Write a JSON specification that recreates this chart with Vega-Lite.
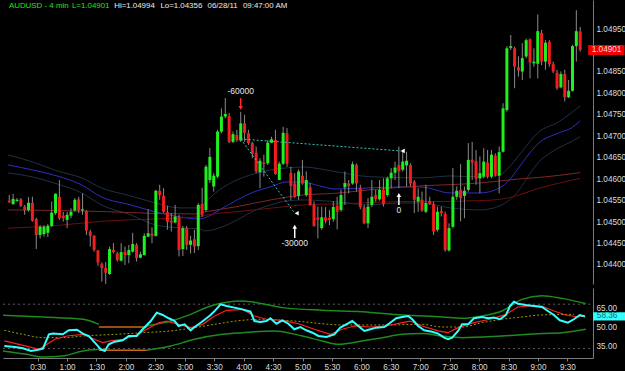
{
"$schema": "https://vega.github.io/schema/vega-lite/v6.json",
"background": "#000000",
"padding": 0,
"spacing": 3,
"config": {"view": {"stroke": null}, "axis": {"labelFont": "Liberation Sans", "labelFontSize": 8.2, "labelColor": "#dcdcdc", "domainColor": "#808080", "tickColor": "#808080", "grid": false, "labelOverlap": false, "labelSeparation": 0}, "text": {"font": "Liberation Sans"}},
"datasets": {
"candles": [
{"t":-4,"o":1.0455,"h":1.04563,"l":1.04545,"c":1.04546},{"t":0,"o":1.04542,"h":1.04566,"l":1.0454,"c":1.04554},{"t":4,"o":1.04549,"h":1.04556,"l":1.04548,"c":1.04552},{"t":8,"o":1.04553,"h":1.04556,"l":1.04535,"c":1.04538},{"t":12,"o":1.04536,"h":1.0454,"l":1.04517,"c":1.04528},{"t":16,"o":1.04528,"h":1.04558,"l":1.04524,"c":1.04545},{"t":20,"o":1.04545,"h":1.04559,"l":1.04501,"c":1.04503},{"t":24,"o":1.04507,"h":1.0451,"l":1.04437,"c":1.0447},{"t":28,"o":1.0447,"h":1.04493,"l":1.04462,"c":1.04489},{"t":32,"o":1.04472,"h":1.04493,"l":1.04466,"c":1.04489},
{"t":36,"o":1.04475,"h":1.04496,"l":1.04465,"c":1.04491},{"t":40,"o":1.04491,"h":1.04548,"l":1.04488,"c":1.04522},{"t":44,"o":1.04521,"h":1.04567,"l":1.04517,"c":1.04566},{"t":48,"o":1.04559,"h":1.04598,"l":1.04505,"c":1.04509},{"t":52,"o":1.04515,"h":1.04524,"l":1.04501,"c":1.04509},{"t":56,"o":1.04505,"h":1.04524,"l":1.04486,"c":1.04517},{"t":60,"o":1.04515,"h":1.04532,"l":1.04509,"c":1.04524},{"t":64,"o":1.04527,"h":1.04556,"l":1.04524,"c":1.04552},{"t":68,"o":1.04553,"h":1.04559,"l":1.04521,"c":1.04527},{"t":72,"o":1.04527,"h":1.04567,"l":1.04517,"c":1.0453},
{"t":76,"o":1.04526,"h":1.04528,"l":1.0447,"c":1.0448},{"t":80,"o":1.04478,"h":1.04482,"l":1.04443,"c":1.04468},{"t":84,"o":1.04468,"h":1.0447,"l":1.04431,"c":1.04435},{"t":88,"o":1.04434,"h":1.04435,"l":1.04398,"c":1.04406},{"t":92,"o":1.04402,"h":1.04406,"l":1.04361,"c":1.04393},{"t":96,"o":1.04393,"h":1.04407,"l":1.04356,"c":1.04382},{"t":100,"o":1.04379,"h":1.04443,"l":1.04377,"c":1.04437},{"t":104,"o":1.04435,"h":1.04451,"l":1.04427,"c":1.0443},{"t":108,"o":1.04427,"h":1.04431,"l":1.04408,"c":1.04412},{"t":112,"o":1.0441,"h":1.04451,"l":1.04408,"c":1.0443},
{"t":116,"o":1.04431,"h":1.04443,"l":1.044,"c":1.04423},{"t":120,"o":1.04423,"h":1.04447,"l":1.04404,"c":1.04435},{"t":124,"o":1.04431,"h":1.04475,"l":1.04429,"c":1.04449},{"t":128,"o":1.04447,"h":1.04451,"l":1.04408,"c":1.04416},{"t":132,"o":1.04417,"h":1.04431,"l":1.04416,"c":1.04425},{"t":136,"o":1.04423,"h":1.04474,"l":1.04422,"c":1.04468},{"t":140,"o":1.04466,"h":1.0453,"l":1.04465,"c":1.04474},{"t":144,"o":1.04473,"h":1.04488,"l":1.04451,"c":1.04468},{"t":148,"o":1.04468,"h":1.04575,"l":1.04466,"c":1.04573},{"t":152,"o":1.04573,"h":1.04587,"l":1.04552,"c":1.04563},
{"t":156,"o":1.04561,"h":1.04579,"l":1.04521,"c":1.04524},{"t":160,"o":1.04523,"h":1.04538,"l":1.04482,"c":1.04501},{"t":164,"o":1.04503,"h":1.04521,"l":1.04478,"c":1.04499},{"t":168,"o":1.04499,"h":1.0454,"l":1.04497,"c":1.04513},{"t":172,"o":1.04511,"h":1.04517,"l":1.0442,"c":1.04435},{"t":176,"o":1.04437,"h":1.04491,"l":1.04421,"c":1.04486},{"t":180,"o":1.04486,"h":1.04491,"l":1.04435,"c":1.04447},{"t":184,"o":1.04447,"h":1.04468,"l":1.04427,"c":1.04457},{"t":188,"o":1.0446,"h":1.04482,"l":1.04428,"c":1.04443},{"t":192,"o":1.04444,"h":1.04544,"l":1.04435,"c":1.0454},
{"t":196,"o":1.04542,"h":1.0458,"l":1.04512,"c":1.04517},{"t":200,"o":1.04528,"h":1.04633,"l":1.04524,"c":1.04629},{"t":204,"o":1.04598,"h":1.04673,"l":1.04591,"c":1.04652},{"t":208,"o":1.04583,"h":1.04614,"l":1.04571,"c":1.04608},{"t":212,"o":1.04606,"h":1.04715,"l":1.04602,"c":1.04711},{"t":216,"o":1.04711,"h":1.04765,"l":1.04707,"c":1.04746},{"t":220,"o":1.04746,"h":1.04789,"l":1.04742,"c":1.04752},{"t":224,"o":1.04747,"h":1.04754,"l":1.04684,"c":1.04687},{"t":228,"o":1.04687,"h":1.04711,"l":1.04684,"c":1.04705},{"t":232,"o":1.04703,"h":1.04715,"l":1.04687,"c":1.04691},
{"t":236,"o":1.0469,"h":1.04757,"l":1.04687,"c":1.0473},{"t":240,"o":1.0473,"h":1.0475,"l":1.04687,"c":1.04708},{"t":244,"o":1.04707,"h":1.04715,"l":1.0468,"c":1.04684},{"t":248,"o":1.04684,"h":1.04687,"l":1.04649,"c":1.04659},{"t":252,"o":1.04662,"h":1.04676,"l":1.04614,"c":1.04618},{"t":256,"o":1.04616,"h":1.04649,"l":1.04579,"c":1.04643},{"t":260,"o":1.04639,"h":1.04657,"l":1.04606,"c":1.04635},{"t":264,"o":1.04637,"h":1.04691,"l":1.04633,"c":1.04685},{"t":268,"o":1.04685,"h":1.04699,"l":1.04684,"c":1.04693},{"t":272,"o":1.04691,"h":1.04715,"l":1.0461,"c":1.04612},
{"t":276,"o":1.04598,"h":1.04641,"l":1.04598,"c":1.04636},{"t":280,"o":1.04636,"h":1.04722,"l":1.04633,"c":1.04708},{"t":284,"o":1.04707,"h":1.04719,"l":1.04629,"c":1.04636},{"t":288,"o":1.04615,"h":1.04629,"l":1.04552,"c":1.04584},{"t":292,"o":1.0459,"h":1.04614,"l":1.04556,"c":1.04559},{"t":296,"o":1.04561,"h":1.04623,"l":1.04552,"c":1.04618},{"t":300,"o":1.04608,"h":1.04645,"l":1.04587,"c":1.0459},{"t":304,"o":1.04563,"h":1.04618,"l":1.04559,"c":1.04598},{"t":308,"o":1.04581,"h":1.04591,"l":1.04538,"c":1.0454},{"t":312,"o":1.0454,"h":1.04548,"l":1.04489,"c":1.04491},
{"t":316,"o":1.04511,"h":1.04536,"l":1.04462,"c":1.04505},{"t":320,"o":1.04486,"h":1.04536,"l":1.04482,"c":1.04511},{"t":324,"o":1.04511,"h":1.04535,"l":1.04497,"c":1.04503},{"t":328,"o":1.0451,"h":1.04528,"l":1.04493,"c":1.04505},{"t":332,"o":1.04507,"h":1.04548,"l":1.04501,"c":1.04535},{"t":336,"o":1.04538,"h":1.04559,"l":1.04483,"c":1.04524},{"t":340,"o":1.04528,"h":1.04575,"l":1.04524,"c":1.04563},{"t":344,"o":1.04581,"h":1.04618,"l":1.0454,"c":1.04591},{"t":348,"o":1.0459,"h":1.04598,"l":1.04567,"c":1.04584},{"t":352,"o":1.0459,"h":1.04641,"l":1.04587,"c":1.04635},
{"t":356,"o":1.04633,"h":1.04637,"l":1.04571,"c":1.0459},{"t":360,"o":1.04579,"h":1.04587,"l":1.0453,"c":1.04535},{"t":364,"o":1.04534,"h":1.0454,"l":1.04495,"c":1.04497},{"t":368,"o":1.04497,"h":1.04556,"l":1.04486,"c":1.04536},{"t":372,"o":1.0454,"h":1.04598,"l":1.04535,"c":1.04559},{"t":376,"o":1.04563,"h":1.04575,"l":1.04548,"c":1.04554},{"t":380,"o":1.04553,"h":1.04598,"l":1.0455,"c":1.04575},{"t":384,"o":1.04575,"h":1.04602,"l":1.04536,"c":1.04542},{"t":388,"o":1.04563,"h":1.04606,"l":1.04559,"c":1.04602},{"t":392,"o":1.04602,"h":1.04626,"l":1.04579,"c":1.04615},
{"t":396,"o":1.04615,"h":1.04641,"l":1.04598,"c":1.04627},{"t":400,"o":1.04633,"h":1.04676,"l":1.04579,"c":1.04619},{"t":404,"o":1.04622,"h":1.04668,"l":1.04618,"c":1.04641},{"t":408,"o":1.04632,"h":1.04664,"l":1.04583,"c":1.04643},{"t":412,"o":1.04633,"h":1.04637,"l":1.04583,"c":1.0459},{"t":416,"o":1.04594,"h":1.04598,"l":1.04521,"c":1.04552},{"t":420,"o":1.04548,"h":1.04579,"l":1.04524,"c":1.04559},{"t":424,"o":1.04552,"h":1.04571,"l":1.04524,"c":1.04527},{"t":428,"o":1.04524,"h":1.04587,"l":1.04521,"c":1.04544},{"t":432,"o":1.04549,"h":1.04559,"l":1.0454,"c":1.04542},
{"t":436,"o":1.04542,"h":1.04548,"l":1.0447,"c":1.04478},{"t":440,"o":1.04482,"h":1.04536,"l":1.04478,"c":1.04524},{"t":444,"o":1.04526,"h":1.04536,"l":1.04513,"c":1.04521},{"t":448,"o":1.04519,"h":1.04524,"l":1.04431,"c":1.04435},{"t":452,"o":1.04434,"h":1.04497,"l":1.04431,"c":1.04486},{"t":456,"o":1.04489,"h":1.04626,"l":1.04486,"c":1.04559},{"t":460,"o":1.04559,"h":1.04583,"l":1.04552,"c":1.04573},{"t":464,"o":1.04575,"h":1.04635,"l":1.04502,"c":1.04556},{"t":468,"o":1.04561,"h":1.04583,"l":1.04509,"c":1.04573},{"t":472,"o":1.04575,"h":1.04684,"l":1.04571,"c":1.04645},
{"t":476,"o":1.04645,"h":1.04687,"l":1.04598,"c":1.04639},{"t":480,"o":1.04642,"h":1.04668,"l":1.04587,"c":1.04601},{"t":484,"o":1.04602,"h":1.04653,"l":1.04567,"c":1.04614},{"t":488,"o":1.04606,"h":1.04672,"l":1.04602,"c":1.04641},{"t":492,"o":1.04639,"h":1.04668,"l":1.04602,"c":1.04606},{"t":496,"o":1.04606,"h":1.04668,"l":1.04602,"c":1.04657},{"t":500,"o":1.04655,"h":1.0466,"l":1.04606,"c":1.0461},{"t":504,"o":1.04608,"h":1.04676,"l":1.04567,"c":1.04663},{"t":508,"o":1.04664,"h":1.04777,"l":1.04662,"c":1.04765},{"t":512,"o":1.04761,"h":1.0491,"l":1.04757,"c":1.04905},
{"t":516,"o":1.04906,"h":1.04936,"l":1.04901,"c":1.0491},{"t":520,"o":1.04905,"h":1.04909,"l":1.04812,"c":1.04862},{"t":524,"o":1.04861,"h":1.04886,"l":1.04839,"c":1.04853},{"t":528,"o":1.04851,"h":1.04917,"l":1.04831,"c":1.04882},{"t":532,"o":1.04886,"h":1.04928,"l":1.04882,"c":1.04924},{"t":536,"o":1.04926,"h":1.04928,"l":1.04835,"c":1.04872},{"t":540,"o":1.0487,"h":1.04905,"l":1.04862,"c":1.04874},{"t":544,"o":1.04869,"h":1.04984,"l":1.04835,"c":1.04945},{"t":548,"o":1.04941,"h":1.04948,"l":1.04866,"c":1.04874},{"t":552,"o":1.04874,"h":1.04924,"l":1.04855,"c":1.04918},
{"t":556,"o":1.0492,"h":1.04924,"l":1.04862,"c":1.04868},{"t":560,"o":1.04868,"h":1.04874,"l":1.04847,"c":1.04851},{"t":564,"o":1.04848,"h":1.04855,"l":1.04808,"c":1.04812},{"t":568,"o":1.04814,"h":1.04851,"l":1.04812,"c":1.04845},{"t":572,"o":1.04845,"h":1.04855,"l":1.04781,"c":1.04791},{"t":576,"o":1.04791,"h":1.04831,"l":1.04789,"c":1.04806},{"t":580,"o":1.04806,"h":1.04913,"l":1.04804,"c":1.0491},{"t":584,"o":1.0491,"h":1.04994,"l":1.04874,"c":1.04945},{"t":588,"o":1.04944,"h":1.04955,"l":1.04897,"c":1.04901}
],
"ma": [
{"s":"U","t":-5.3,"p":1.046565},{"s":"U","t":20.2,"p":1.046401},{"s":"U","t":45.7,"p":1.046192},{"s":"U","t":71.2,"p":1.046029},{"s":"U","t":91.5,"p":1.045796},{"s":"U","t":122.1,"p":1.045609},{"s":"U","t":147.6,"p":1.045446},{"s":"U","t":173.1,"p":1.04533},{"s":"U","t":193.5,"p":1.04533},{"s":"U","t":198.6,"p":1.045446},{"s":"U","t":213.9,"p":1.045749},{"s":"U","t":232.2,"p":1.045982},{"s":"U","t":249.5,"p":1.046122},{"s":"U","t":266.9,"p":1.046215},{"s":"U","t":283.2,"p":1.046262},{"s":"U","t":300.5,"p":1.046285},{"s":"U","t":334.2,"p":1.046175},{"s":"U","t":368.8,"p":1.046059},{"s":"U","t":402.4,"p":1.046036},{"s":"U","t":422.8,"p":1.046029},{"s":"U","t":453.4,"p":1.046075},{"s":"U","t":484,"p":1.046052},{"s":"U","t":504.4,"p":1.046099},{"s":"U","t":514.6,"p":1.046285},{"s":"U","t":524.8,"p":1.046565},{"s":"U","t":545.1,"p":1.0471},{"s":"U","t":565.5,"p":1.047333},{"s":"U","t":578.8,"p":1.047543},{"s":"U","t":588,"p":1.047706},
{"s":"B","t":-5.3,"p":1.046332},{"s":"B","t":20.2,"p":1.046215},{"s":"B","t":45.7,"p":1.046075},{"s":"B","t":71.2,"p":1.045866},{"s":"B","t":91.5,"p":1.045586},{"s":"B","t":122.1,"p":1.0454},{"s":"B","t":147.6,"p":1.045236},{"s":"B","t":173.1,"p":1.04512},{"s":"B","t":193.5,"p":1.045073},{"s":"B","t":198.6,"p":1.045097},{"s":"B","t":213.9,"p":1.045283},{"s":"B","t":232.2,"p":1.045516},{"s":"B","t":249.5,"p":1.045702},{"s":"B","t":266.9,"p":1.045819},{"s":"B","t":283.2,"p":1.045935},{"s":"B","t":300.5,"p":1.045935},{"s":"B","t":317.8,"p":1.045842},{"s":"B","t":334.2,"p":1.045772},{"s":"B","t":368.8,"p":1.045796},{"s":"B","t":402.4,"p":1.045819},{"s":"B","t":422.8,"p":1.045819},{"s":"B","t":453.4,"p":1.045679},{"s":"B","t":484,"p":1.045679},{"s":"B","t":504.4,"p":1.045796},{"s":"B","t":514.6,"p":1.045982},{"s":"B","t":524.8,"p":1.046285},{"s":"B","t":545.1,"p":1.046844},{"s":"B","t":565.5,"p":1.047077},{"s":"B","t":578.8,"p":1.047194},{"s":"B","t":588,"p":1.047357},
{"s":"L","t":-5.3,"p":1.046145},{"s":"L","t":20.2,"p":1.046052},{"s":"L","t":45.7,"p":1.045889},{"s":"L","t":71.2,"p":1.045679},{"s":"L","t":91.5,"p":1.0454},{"s":"L","t":122.1,"p":1.045166},{"s":"L","t":147.6,"p":1.044934},{"s":"L","t":173.1,"p":1.044864},{"s":"L","t":193.5,"p":1.04484},{"s":"L","t":198.6,"p":1.044794},{"s":"L","t":213.9,"p":1.044864},{"s":"L","t":232.2,"p":1.04505},{"s":"L","t":249.5,"p":1.04526},{"s":"L","t":266.9,"p":1.0454},{"s":"L","t":283.2,"p":1.045493},{"s":"L","t":300.5,"p":1.045516},{"s":"L","t":334.2,"p":1.045476},{"s":"L","t":368.8,"p":1.0454},{"s":"L","t":402.4,"p":1.045446},{"s":"L","t":422.8,"p":1.045446},{"s":"L","t":453.4,"p":1.04533},{"s":"L","t":484,"p":1.045283},{"s":"L","t":504.4,"p":1.045376},{"s":"L","t":514.6,"p":1.045516},{"s":"L","t":524.8,"p":1.045749},{"s":"L","t":535,"p":1.046099},{"s":"L","t":545.1,"p":1.046401},{"s":"L","t":555.3,"p":1.046588},{"s":"L","t":565.5,"p":1.046728},{"s":"L","t":578.8,"p":1.046874},{"s":"L","t":588,"p":1.046991},
{"s":"A","t":-5.3,"p":1.045283},{"s":"A","t":45.7,"p":1.045271},{"s":"A","t":96.6,"p":1.045243},{"s":"A","t":147.6,"p":1.045201},{"s":"A","t":188.4,"p":1.04519},{"s":"A","t":198.6,"p":1.045236},{"s":"A","t":232.2,"p":1.04536},{"s":"A","t":266.9,"p":1.045516},{"s":"A","t":300.5,"p":1.045632},{"s":"A","t":334.2,"p":1.045672},{"s":"A","t":368.8,"p":1.045749},{"s":"A","t":402.4,"p":1.045812},{"s":"A","t":422.8,"p":1.045842},{"s":"A","t":484,"p":1.045912},{"s":"A","t":524.8,"p":1.046005},{"s":"A","t":545.1,"p":1.04604},{"s":"A","t":565.5,"p":1.046087},{"s":"A","t":588,"p":1.046152},
{"s":"M","t":-5.3,"p":1.044857},{"s":"M","t":45.7,"p":1.044922},{"s":"M","t":96.6,"p":1.045027},{"s":"M","t":147.6,"p":1.045073},{"s":"M","t":193.5,"p":1.045127},{"s":"M","t":198.6,"p":1.045155},{"s":"M","t":232.2,"p":1.045243},{"s":"M","t":266.9,"p":1.045323},{"s":"M","t":300.5,"p":1.0454},{"s":"M","t":334.2,"p":1.045423},{"s":"M","t":368.8,"p":1.045453},{"s":"M","t":402.4,"p":1.045476},{"s":"M","t":422.8,"p":1.045476},{"s":"M","t":484,"p":1.0455},{"s":"M","t":507.4,"p":1.045539},{"s":"M","t":524.8,"p":1.045632},{"s":"M","t":545.1,"p":1.045789},{"s":"M","t":565.5,"p":1.045905},{"s":"M","t":588,"p":1.046022}
],
"dots": [
{"seg":"h","t":236,"p":1.046937},{"seg":"h","t":402,"p":1.046658},
{"seg":"d","t":236,"p":1.046937},{"seg":"d","t":292,"p":1.045206}
],
"ends": [{"t":294,"p":1.045206},{"t":404,"p":1.046658}],
"arrows": [
{"dir":"down","t":236,"tail":1.04789,"head":1.04766},
{"dir":"up","t":292,"tail":1.04463,"head":1.04489},
{"dir":"up","t":400,"tail":1.0454,"head":1.04563}
],
"labels": [
{"t":236,"p":1.04806,"label":"-60000"},
{"t":292,"p":1.04451,"label":"-30000"},
{"t":400,"p":1.04528,"label":"0"}
],
"header": [
{"part":"g","t":-4.3,"p":1.050043,"label":"AUDUSD - 4 min"},
{"part":"g","t":61,"p":1.050043,"label":"L=1.04901"},
{"part":"w","t":104.8,"p":1.050043,"label":"Hi=1.04994"},
{"part":"w","t":152.7,"p":1.050043,"label":"Lo=1.04356"},
{"part":"w","t":201.6,"p":1.050043,"label":"06/28/11"},
{"part":"w","t":238.3,"p":1.050043,"label":"09:47:00 AM"}
],
"pricebox": [{"t1":596.3,"t2":634,"p1":1.049127,"p2":1.048893,"tx":600,"p":1.04901,"label":"1.04901"}],
"oscbox": [{"t1":596.3,"t2":634,"v1":61.56,"v2":55.16,"tx":600,"v":58.36,"label":"58.36"}],
"lvls": [{"v":68},{"v":33}],
"osc": [
{"s":"rsi","t":-4,"v":35.0},{"s":"rsi","t":6.9,"v":34.2},{"s":"rsi","t":15,"v":33.2},{"s":"rsi","t":23.2,"v":31.1},{"s":"rsi","t":29.3,"v":31.9},{"s":"rsi","t":35.4,"v":32.9},{"s":"rsi","t":41.5,"v":44.2},{"s":"rsi","t":45.6,"v":44.8},{"s":"rsi","t":55.7,"v":44.2},{"s":"rsi","t":61.8,"v":47.4},{"s":"rsi","t":70,"v":47.9},{"s":"rsi","t":76.1,"v":44.8},{"s":"rsi","t":82.2,"v":42.9},{"s":"rsi","t":88.3,"v":37.7},{"s":"rsi","t":94.4,"v":32.4},{"s":"rsi","t":98.5,"v":31.1},{"s":"rsi","t":102.5,"v":36.3},{"s":"rsi","t":108.6,"v":38.4},{"s":"rsi","t":116.8,"v":39.5},{"s":"rsi","t":122.9,"v":42.9},{"s":"rsi","t":131,"v":42.9},{"s":"rsi","t":137.1,"v":48.2},{"s":"rsi","t":145.3,"v":54.7},{"s":"rsi","t":151.4,"v":61.3},{"s":"rsi","t":157.5,"v":59.5},{"s":"rsi","t":163.6,"v":56.9},{"s":"rsi","t":169.7,"v":54.7},{"s":"rsi","t":173.7,"v":50.8},{"s":"rsi","t":179.8,"v":52.1},{"s":"rsi","t":185.9,"v":47.4},{"s":"rsi","t":190,"v":50},{"s":"rsi","t":196.1,"v":53.4},{"s":"rsi","t":202.2,"v":56.9},{"s":"rsi","t":206.3,"v":59.5},{"s":"rsi","t":210.4,"v":62.6},{"s":"rsi","t":216.5,"v":67.9},{"s":"rsi","t":222.6,"v":66.6},{"s":"rsi","t":230.7,"v":65.3},{"s":"rsi","t":238.8,"v":63.9},{"s":"rsi","t":247,"v":62.1},{"s":"rsi","t":251,"v":54.7},{"s":"rsi","t":257.1,"v":53.9},{"s":"rsi","t":263.3,"v":54.7},{"s":"rsi","t":267.3,"v":56.9},{"s":"rsi","t":273.4,"v":52.6},{"s":"rsi","t":279.5,"v":55.3},{"s":"rsi","t":285.6,"v":52.6},{"s":"rsi","t":291.7,"v":48.2},{"s":"rsi","t":297.8,"v":50},{"s":"rsi","t":303.9,"v":47.4},{"s":"rsi","t":310.1,"v":45.5},{"s":"rsi","t":316.2,"v":42.9},{"s":"rsi","t":324.3,"v":42.1},{"s":"rsi","t":332.4,"v":44.2},{"s":"rsi","t":338.5,"v":49.5},{"s":"rsi","t":344.6,"v":52.1},{"s":"rsi","t":350.7,"v":54.7},{"s":"rsi","t":354.8,"v":52.1},{"s":"rsi","t":358.9,"v":49.5},{"s":"rsi","t":363,"v":46.9},{"s":"rsi","t":369.1,"v":48.2},{"s":"rsi","t":375.2,"v":49.5},{"s":"rsi","t":383.3,"v":50},{"s":"rsi","t":389.4,"v":53.4},{"s":"rsi","t":395.5,"v":56.9},{"s":"rsi","t":401.6,"v":57.9},{"s":"rsi","t":407.7,"v":58.7},{"s":"rsi","t":411.8,"v":56.1},{"s":"rsi","t":417.9,"v":50.8},{"s":"rsi","t":424,"v":47.4},{"s":"rsi","t":432.1,"v":46.3},{"s":"rsi","t":438.2,"v":44.8},{"s":"rsi","t":444.3,"v":41.6},{"s":"rsi","t":448.4,"v":40.3},{"s":"rsi","t":452.5,"v":41.6},{"s":"rsi","t":458.6,"v":46.9},{"s":"rsi","t":462.6,"v":52.1},{"s":"rsi","t":468.7,"v":52.1},{"s":"rsi","t":474.8,"v":56.9},{"s":"rsi","t":483,"v":57.9},{"s":"rsi","t":489.1,"v":56.9},{"s":"rsi","t":495.2,"v":57.4},{"s":"rsi","t":501.3,"v":56.1},{"s":"rsi","t":507.4,"v":59.5},{"s":"rsi","t":511.5,"v":66.6},{"s":"rsi","t":515.5,"v":70},{"s":"rsi","t":519.6,"v":68.4},{"s":"rsi","t":527.7,"v":67.4},{"s":"rsi","t":535.9,"v":66.6},{"s":"rsi","t":544,"v":65.8},{"s":"rsi","t":550.1,"v":62.6},{"s":"rsi","t":556.2,"v":59.5},{"s":"rsi","t":562.3,"v":55.3},{"s":"rsi","t":570.5,"v":53.4},{"s":"rsi","t":576.6,"v":56.1},{"s":"rsi","t":582.7,"v":59.5},{"s":"rsi","t":588,"v":58.36},
{"s":"sig","t":-4,"v":39},{"s":"sig","t":11,"v":36.3},{"s":"sig","t":31.3,"v":32.4},{"s":"sig","t":39.5,"v":36.3},{"s":"sig","t":47.6,"v":40.3},{"s":"sig","t":59.8,"v":42.9},{"s":"sig","t":76.1,"v":44.2},{"s":"sig","t":92.4,"v":39},{"s":"sig","t":96.4,"v":37.7},{"s":"sig","t":104.6,"v":39},{"s":"sig","t":116.8,"v":40.3},{"s":"sig","t":129,"v":42.9},{"s":"sig","t":141.2,"v":48.2},{"s":"sig","t":153.4,"v":53.4},{"s":"sig","t":161.5,"v":54.7},{"s":"sig","t":173.7,"v":52.1},{"s":"sig","t":185.9,"v":49.5},{"s":"sig","t":198.2,"v":52.1},{"s":"sig","t":210.4,"v":58.7},{"s":"sig","t":222.6,"v":63.2},{"s":"sig","t":238.8,"v":63.9},{"s":"sig","t":251,"v":58.7},{"s":"sig","t":263.3,"v":56.1},{"s":"sig","t":279.5,"v":55.3},{"s":"sig","t":295.8,"v":52.6},{"s":"sig","t":312.1,"v":48.2},{"s":"sig","t":328.4,"v":44.2},{"s":"sig","t":340.6,"v":48.2},{"s":"sig","t":352.8,"v":50.8},{"s":"sig","t":369.1,"v":50},{"s":"sig","t":385.3,"v":50.8},{"s":"sig","t":401.6,"v":53.4},{"s":"sig","t":409.7,"v":54.7},{"s":"sig","t":421.9,"v":50.8},{"s":"sig","t":438.2,"v":46.9},{"s":"sig","t":448.4,"v":45.5},{"s":"sig","t":458.6,"v":49.5},{"s":"sig","t":474.8,"v":53.4},{"s":"sig","t":491.1,"v":56.1},{"s":"sig","t":507.4,"v":60},{"s":"sig","t":519.6,"v":65.8},{"s":"sig","t":531.8,"v":66.6},{"s":"sig","t":544,"v":66.6},{"s":"sig","t":556.2,"v":62.6},{"s":"sig","t":568.4,"v":59.5},{"s":"sig","t":580.6,"v":57.9},{"s":"sig","t":588,"v":58.7},
{"s":"avg","t":-4,"v":47.4},{"s":"avg","t":15,"v":44.2},{"s":"avg","t":35.4,"v":41.6},{"s":"avg","t":55.7,"v":41.6},{"s":"avg","t":76.1,"v":42.9},{"s":"avg","t":108.6,"v":44.2},{"s":"avg","t":137.1,"v":45.5},{"s":"avg","t":165.6,"v":46.9},{"s":"avg","t":190,"v":49.5},{"s":"avg","t":210.4,"v":52.1},{"s":"avg","t":238.8,"v":55.3},{"s":"avg","t":259.2,"v":56.1},{"s":"avg","t":279.5,"v":55.3},{"s":"avg","t":299.9,"v":54.2},{"s":"avg","t":320.2,"v":52.6},{"s":"avg","t":340.6,"v":51.6},{"s":"avg","t":381.3,"v":51.6},{"s":"avg","t":421.9,"v":52.1},{"s":"avg","t":442.3,"v":50},{"s":"avg","t":462.6,"v":50},{"s":"avg","t":483,"v":53.4},{"s":"avg","t":503.3,"v":56.1},{"s":"avg","t":523.7,"v":57.9},{"s":"avg","t":544,"v":59.5},{"s":"avg","t":576.6,"v":60},
{"s":"bu1","t":-5.3,"v":59.2},{"s":"bu1","t":35.4,"v":57.9},{"s":"bu1","t":76.1,"v":56.1},{"s":"bu1","t":92.4,"v":52.1},
{"s":"ou","t":92.4,"v":50.0},{"s":"ou","t":141.2,"v":50.0},
{"s":"bu2","t":141.2,"v":50.8},{"s":"bu2","t":165.6,"v":54.7},{"s":"bu2","t":185.9,"v":60},{"s":"bu2","t":206.3,"v":66.6},{"s":"bu2","t":238.8,"v":70.5},{"s":"bu2","t":259.2,"v":68.4},{"s":"bu2","t":279.5,"v":65.3},{"s":"bu2","t":320.2,"v":63.2},{"s":"bu2","t":360.9,"v":62.1},{"s":"bu2","t":401.6,"v":59.5},{"s":"bu2","t":442.3,"v":57.9},{"s":"bu2","t":462.6,"v":56.9},{"s":"bu2","t":483,"v":58.7},{"s":"bu2","t":503.3,"v":62.6},{"s":"bu2","t":523.7,"v":71.8},{"s":"bu2","t":544,"v":74.7},{"s":"bu2","t":564.4,"v":72.6},{"s":"bu2","t":588.8,"v":68.4},
{"s":"bl1","t":-5.3,"v":31.1},{"s":"bl1","t":19.1,"v":28.4},{"s":"bl1","t":35.4,"v":26.3},{"s":"bl1","t":55.7,"v":27.1},{"s":"bl1","t":76.1,"v":31.1},{"s":"bl1","t":92.4,"v":32.4},
{"s":"ol","t":92.4,"v":31.6},{"s":"ol","t":141.2,"v":31.6},
{"s":"bl2","t":141.2,"v":31.6},{"s":"bl2","t":165.6,"v":35},{"s":"bl2","t":190,"v":40.3},{"s":"bl2","t":218.5,"v":44.2},{"s":"bl2","t":238.8,"v":45.5},{"s":"bl2","t":271.4,"v":46.9},{"s":"bl2","t":299.9,"v":42.9},{"s":"bl2","t":320.2,"v":39},{"s":"bl2","t":336.5,"v":36.3},{"s":"bl2","t":360.9,"v":39},{"s":"bl2","t":381.3,"v":41.6},{"s":"bl2","t":401.6,"v":44.2},{"s":"bl2","t":421.9,"v":44.8},{"s":"bl2","t":442.3,"v":42.9},{"s":"bl2","t":462.6,"v":41.6},{"s":"bl2","t":503.3,"v":42.9},{"s":"bl2","t":544,"v":44.8},{"s":"bl2","t":564.4,"v":45.5},{"s":"bl2","t":588.8,"v":48.2}
]
},
"vconcat": [
{
"width": 590, "height": 284,
"layer": [
{"data": {"name": "ma"}, "mark": {"type": "line", "strokeWidth": 1, "interpolate": "monotone", "clip": true},
 "encoding": {
  "x": {"field": "t", "type": "quantitative", "scale": {"domain": [-5.3, 596.1], "nice": false, "zero": false}, "axis": null},
  "y": {"field": "p", "type": "quantitative", "title": null, "scale": {"domain": [1.043557, 1.050176], "nice": false, "zero": false}, "axis": {"orient": "right", "title": null, "values": [1.044, 1.0445, 1.045, 1.0455, 1.046, 1.0465, 1.047, 1.0475, 1.048, 1.0485, 1.0495], "tickCount": 60, "format": ".5f", "ticks": false, "labelPadding": 3, "labelOverlap": false, "domainColor": "#7a7a7a"}},
  "color": {"field": "s", "type": "nominal", "scale": {"domain": ["U", "B", "L", "A", "M"], "range": ["#1f3144", "#2e2ec4", "#1f3144", "#7e2626", "#6c0e0e"]}, "legend": null},
  "strokeWidth": {"condition": {"test": "datum.s == 'A' || datum.s == 'M'", "value": 1.5}, "value": 1}
 }},
{"data": {"name": "candles"}, "mark": {"type": "rule", "color": "#8a8a8a", "strokeWidth": 1},
 "encoding": {"x": {"field": "t", "type": "quantitative", "axis": null}, "y": {"field": "l", "type": "quantitative", "title": null, "axis": {"labelOverlap": false, "tickCount": 60}}, "y2": {"field": "h"}}},
{"data": {"name": "candles"}, "mark": {"type": "bar", "width": 3},
 "encoding": {"x": {"field": "t", "type": "quantitative", "axis": null}, "y": {"field": "o", "type": "quantitative", "title": null, "axis": {"labelOverlap": false, "tickCount": 60}}, "y2": {"field": "c"},
  "color": {"condition": {"test": "datum.c >= datum.o", "value": "#1ff01f"}, "value": "#f41c1c"}}},
{"data": {"name": "dots"}, "mark": {"type": "line", "color": "#2fc8c8", "strokeWidth": 1, "strokeDash": [2, 2]},
 "encoding": {"x": {"field": "t", "type": "quantitative", "axis": null}, "y": {"field": "p", "type": "quantitative", "title": null, "axis": {"labelOverlap": false, "tickCount": 60}}, "detail": {"field": "seg"}}},
{"data": {"name": "ends"}, "mark": {"type": "point", "shape": "triangle-left", "filled": true, "color": "#ffffff", "size": 22, "opacity": 1},
 "encoding": {"x": {"field": "t", "type": "quantitative", "axis": null}, "y": {"field": "p", "type": "quantitative", "title": null, "axis": {"labelOverlap": false, "tickCount": 60}}}},
{"data": {"name": "arrows"}, "mark": {"type": "rule", "strokeWidth": 1.5},
 "encoding": {"x": {"field": "t", "type": "quantitative", "axis": null}, "y": {"field": "tail", "type": "quantitative", "title": null, "axis": {"labelOverlap": false, "tickCount": 60}}, "y2": {"field": "head"},
  "color": {"condition": {"test": "datum.dir == 'down'", "value": "#ff2a2a"}, "value": "#ffffff"}}},
{"data": {"name": "arrows"}, "mark": {"type": "point", "filled": true, "size": 20, "opacity": 1},
 "encoding": {"x": {"field": "t", "type": "quantitative", "axis": null}, "y": {"field": "head", "type": "quantitative", "title": null, "axis": {"labelOverlap": false, "tickCount": 60}},
  "shape": {"field": "dir", "type": "nominal", "scale": {"domain": ["down", "up"], "range": ["triangle-down", "triangle-up"]}, "legend": null},
  "color": {"condition": {"test": "datum.dir == 'down'", "value": "#ff2a2a"}, "value": "#ffffff"}}},
{"data": {"name": "labels"}, "mark": {"type": "text", "fontSize": 8.5, "color": "#e6e6e6", "align": "center", "baseline": "middle"},
 "encoding": {"x": {"field": "t", "type": "quantitative", "axis": null}, "y": {"field": "p", "type": "quantitative", "title": null, "axis": {"labelOverlap": false, "tickCount": 60}}, "text": {"field": "label"}}},
{"data": {"name": "header"}, "mark": {"type": "text", "fontSize": 7.9, "align": "left", "baseline": "middle"},
 "encoding": {"x": {"field": "t", "type": "quantitative", "axis": null}, "y": {"field": "p", "type": "quantitative", "title": null, "axis": {"labelOverlap": false, "tickCount": 60}}, "text": {"field": "label"},
  "color": {"condition": {"test": "datum.part == 'g'", "value": "#22e022"}, "value": "#ececec"}}},
{"data": {"name": "pricebox"}, "mark": {"type": "rect", "color": "#f00000"},
 "encoding": {"x": {"field": "t1", "type": "quantitative", "axis": null}, "x2": {"field": "t2"}, "y": {"field": "p1", "type": "quantitative", "title": null, "axis": {"labelOverlap": false, "tickCount": 60}}, "y2": {"field": "p2"}}},
{"data": {"name": "pricebox"}, "mark": {"type": "text", "fontSize": 8.2, "color": "#ffd8d8", "align": "left", "baseline": "middle"},
 "encoding": {"x": {"field": "tx", "type": "quantitative", "axis": null}, "y": {"field": "p", "type": "quantitative", "title": null, "axis": {"labelOverlap": false, "tickCount": 60}}, "text": {"field": "label"}}}
]
},
{
"width": 590, "height": 70,
"encoding": {
  "x": {"field": "t", "type": "quantitative", "title": null, "scale": {"domain": [-5.3, 596.1], "nice": false, "zero": false},
   "axis": {"title": null, "values": [30, 60, 90, 120, 150, 180, 210, 240, 270, 300, 330, 360, 390, 420, 450, 480, 510, 540, 570], "tickCount": 60, "labelExpr": "floor(datum.value / 60) + ':' + (datum.value % 60 == 0 ? '00' : '30')", "labelOverlap": false, "labelBound": false, "tickSize": 3, "labelPadding": 2, "domainColor": "#7a7a7a"}},
  "y": {"field": "v", "type": "quantitative", "title": null, "scale": {"domain": [25.53, 80.79], "nice": false, "zero": false}, "axis": {"orient": "right", "title": null, "values": [35, 50, 65], "tickCount": 60, "format": ".2f", "ticks": false, "labelPadding": 3, "labelOverlap": false, "domainColor": "#7a7a7a"}}
},
"layer": [
{"data": {"name": "lvls"}, "mark": {"type": "rule", "color": "#5a5a5a", "strokeDash": [2, 3], "strokeWidth": 1},
 "encoding": {"x": {"value": 0}, "x2": {"value": 590}}},
{"data": {"name": "osc"}, "transform": [{"filter": "indexof(['bu1','bu2','bl1','bl2'], datum.s) >= 0"}], "mark": {"type": "line", "color": "#1e8a1e", "strokeWidth": 1.5, "interpolate": "monotone"},
 "encoding": {"detail": {"field": "s"}}},
{"data": {"name": "osc"}, "transform": [{"filter": "datum.s == 'ou' || datum.s == 'ol'"}], "mark": {"type": "line", "color": "#c86a10", "strokeWidth": 1.5},
 "encoding": {"detail": {"field": "s"}}},
{"data": {"name": "osc"}, "transform": [{"filter": "datum.s == 'avg'"}], "mark": {"type": "line", "color": "#9a9a00", "strokeWidth": 1, "strokeDash": [2, 2], "interpolate": "monotone"},
 "encoding": {}},
{"data": {"name": "osc"}, "transform": [{"filter": "datum.s == 'sig'"}], "mark": {"type": "line", "color": "#ff2020", "strokeWidth": 1.2},
 "encoding": {}},
{"data": {"name": "osc"}, "transform": [{"filter": "datum.s == 'rsi'"}], "mark": {"type": "line", "color": "#33ffff", "strokeWidth": 2},
 "encoding": {}},
{"data": {"name": "oscbox"}, "mark": {"type": "rect", "color": "#33ffff"},
 "encoding": {"x": {"field": "t1", "type": "quantitative"}, "x2": {"field": "t2"}, "y": {"field": "v1", "type": "quantitative"}, "y2": {"field": "v2"}}},
{"data": {"name": "oscbox"}, "mark": {"type": "text", "fontSize": 8.2, "color": "#0a6a6a", "align": "left", "baseline": "middle"},
 "encoding": {"x": {"field": "tx", "type": "quantitative"}, "text": {"field": "label"}}}
]
}
]
}
